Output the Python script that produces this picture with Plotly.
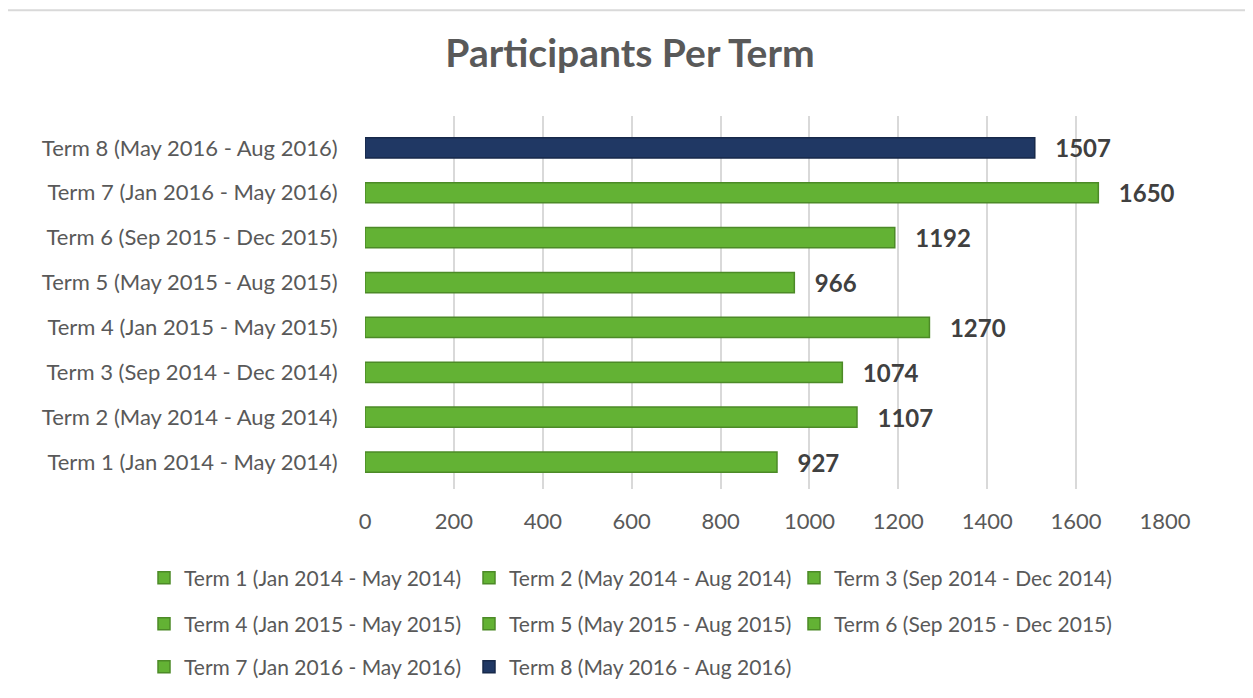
import plotly.graph_objects as go

terms = [
    "Term 1 (Jan 2014 - May 2014)",
    "Term 2 (May 2014 - Aug 2014)",
    "Term 3 (Sep 2014 - Dec 2014)",
    "Term 4 (Jan 2015 - May 2015)",
    "Term 5 (May 2015 - Aug 2015)",
    "Term 6 (Sep 2015 - Dec 2015)",
    "Term 7 (Jan 2016 - May 2016)",
    "Term 8 (May 2016 - Aug 2016)",
]
participants = [927, 1107, 1074, 1270, 966, 1192, 1650, 1507]
bar_colors = ["#63b234"] * 7 + ["#203864"]
edge_colors = ["#4c8a27"] * 7 + ["#17294a"]
x_ticks = [0, 200, 400, 600, 800, 1000, 1200, 1400, 1600, 1800]

FONT = "Lato"
GREY = "#595959"

# page body has an 8px margin, so the figure is drawn 8px smaller
OFF = 8
W, H = 1253 - OFF, 698 - OFF
L, R, T, B = 357, 88, 108, 208
pw, ph = W - L - R, H - T - B


def px_x(px):
    return (px - OFF - L) / pw


def px_y(py):
    return (H - B - (py - OFF)) / ph


fig = go.Figure()

legend_rows = ["legend"] * 3 + ["legend2"] * 3 + ["legend3"] * 2
for i, term in enumerate(terms):
    fig.add_trace(
        go.Bar(
            y=[term],
            x=[participants[i]],
            orientation="h",
            name=term,
            width=0.45,
            marker=dict(color=bar_colors[i], line=dict(color=edge_colors[i], width=1.5)),
            text=[participants[i]],
            texttemplate="   %{x}",
            textposition="outside",
            constraintext="none",
            textfont=dict(family=FONT, size=24, color="#404040", weight="bold"),
            cliponaxis=False,
            legend=legend_rows[i],
        )
    )

legend_common = dict(
    orientation="h",
    x=px_x(144),
    xanchor="left",
    yanchor="middle",
    entrywidth=280,
    font=dict(family=FONT, size=21, color=GREY),
    bgcolor="rgba(0,0,0,0)",
)

fig.update_layout(
    width=W,
    height=H,
    margin=dict(l=L, r=R, t=T, b=B),
    paper_bgcolor="white",
    plot_bgcolor="white",
    barmode="overlay",
    title=dict(
        text="<b>Participants Per Term</b>",
        x=(630 - OFF) / W,
        xanchor="center",
        y=1 - (53 - OFF) / H,
        yanchor="middle",
        font=dict(family=FONT, size=39, color=GREY),
    ),
    xaxis=dict(
        range=[0, 1800],
        tickvals=x_ticks,
        showgrid=True,
        gridcolor="#d9d9d9",
        gridwidth=2,
        zeroline=False,
        showline=False,
        ticks="outside",
        ticklen=13,
        tickcolor="rgba(0,0,0,0)",
        tickfont=dict(family=FONT, size=22, color=GREY),
    ),
    yaxis=dict(
        categoryorder="array",
        categoryarray=terms,
        range=[-0.6, 7.71],
        showgrid=False,
        zeroline=False,
        ticks="outside",
        ticklen=22,
        tickcolor="rgba(0,0,0,0)",
        tickfont=dict(family=FONT, size=22, color=GREY),
    ),
    legend=dict(legend_common, y=px_y(578)),
    legend2=dict(legend_common, y=px_y(624)),
    legend3=dict(legend_common, y=px_y(667)),
    shapes=[
        dict(
            type="rect", xref="paper", yref="paper",
            x0=-1, x1=2, y0=px_y(10), y1=-2,
            line=dict(color="#d9d9d9", width=2),
            layer="below",
        )
    ],
)

fig.write_html("out.html")
